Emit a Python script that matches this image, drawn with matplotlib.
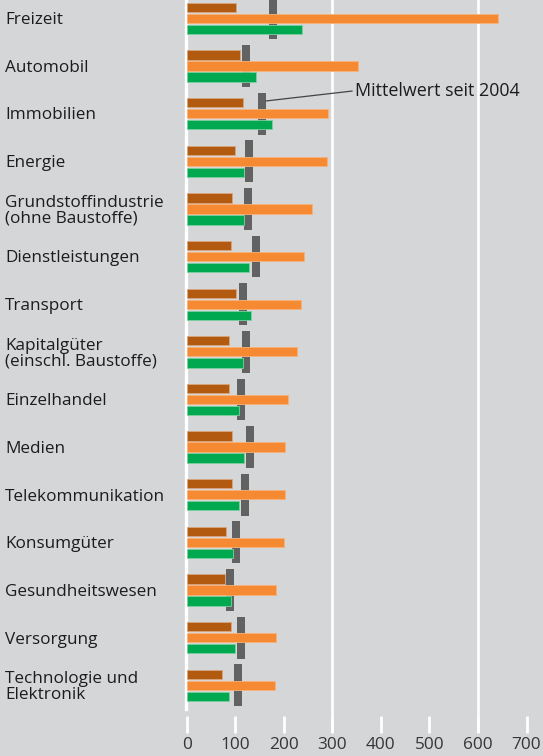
"""
Branchen-Vergleich: drei Kennzahlen je Sektor plus Mittelwert seit 2004.
"""
import matplotlib
matplotlib.use("Agg")
import matplotlib.pyplot as plt
import matplotlib.transforms as mtransforms
import numpy as np

SECTORS = [
    "Freizeit", "Automobil", "Immobilien", "Energie",
    "Grundstoffindustrie\n(ohne Baustoffe)", "Dienstleistungen", "Transport",
    "Kapitalgüter\n(einschl. Baustoffe)", "Einzelhandel", "Medien",
    "Telekommunikation", "Konsumgüter", "Gesundheitswesen", "Versorgung",
    "Technologie und\nElektronik",
]
brown_vals = [102, 110, 116, 100, 94, 91, 101, 88, 88, 94, 94, 80, 79, 91, 72]
orange_vals = [642, 352, 292, 289, 259, 241, 235, 228, 209, 202, 202, 200, 184, 184, 182]
green_vals = [237, 143, 175, 117, 117, 128, 132, 115, 108, 118, 108, 96, 91, 100, 87]
mean_since_2004 = [178, 122, 155, 128, 126, 143, 116, 122, 112, 130, 120, 101, 89, 112, 106]
xtick_vals = [0, 100, 200, 300, 400, 500, 600, 700]

BG = "#d5d6d8"
BROWN = "#b25a10"
ORANGE = "#f68a32"
GREEN = "#00a84f"
MARKER = "#626262"
TEXT = "#1c1c1c"

plt.rcParams["font.family"] = ["Open Sans", "DejaVu Sans"]

fig = plt.figure(figsize=(5.43, 7.56), dpi=100, facecolor=BG)
# axes over full width, bottom edge at the tick baseline (733 px from top)
ax = fig.add_axes([0, 23 / 756, 1, 733 / 756])
ax.set_facecolor(BG)

y = np.arange(len(SECTORS))
off = 0.231
h = 0.196

ax.barh(y, [16.5] * len(y), left=np.array(mean_since_2004) - 8.25, height=0.88,
        color=MARKER, zorder=2)
ax.barh(y - off, brown_vals, height=h, color=BROWN, edgecolor="#d8a57e", linewidth=0.6, zorder=3)
ax.barh(y, orange_vals, height=h, color=ORANGE, edgecolor="#f7b27a", linewidth=0.6, zorder=3)
ax.barh(y + off, green_vals, height=h, color=GREEN, edgecolor="#7ccf9f", linewidth=0.6, zorder=3)

ax.set_xlim(-384.6, 733.9)
ax.set_ylim(15.0, -0.384)

# weisse Referenzlinien
ax.axvline(-1.5, ymin=24 / 733, ymax=1, color="white", lw=2.4, zorder=1)
ax.axvline(300, color="white", lw=1.9, zorder=1)
ax.axvline(600, color="white", lw=1.9, zorder=1)

for s in ax.spines.values():
    s.set_visible(False)
ax.set_yticks([])
ax.set_xticks(xtick_vals)
ax.set_xticklabels([str(v) for v in xtick_vals])
ax.tick_params(axis="x", direction="in", length=12.2, width=2.0, color="white",
               pad=3, labelsize=12.4, labelcolor="#363636")

trans = mtransforms.blended_transform_factory(ax.transAxes, ax.transData)
for i, name in enumerate(SECTORS):
    ax.text(5 / 543, i + 0.04, name, transform=trans, ha="left", va="center",
            fontsize=12.3, color=TEXT, linespacing=1.0)

ax.annotate("Mittelwert seit 2004", xy=(mean_since_2004[2] + 8.25, 2 - 0.265),
            xytext=(346.6, 1.52), ha="left", va="center", fontsize=12.9, color=TEXT,
            arrowprops=dict(arrowstyle="-", color="#444444", lw=0.9,
                            shrinkA=0, shrinkB=0, relpos=(0, 0.5)),
            zorder=4)

fig.savefig("out.png", dpi=100, facecolor=BG)
